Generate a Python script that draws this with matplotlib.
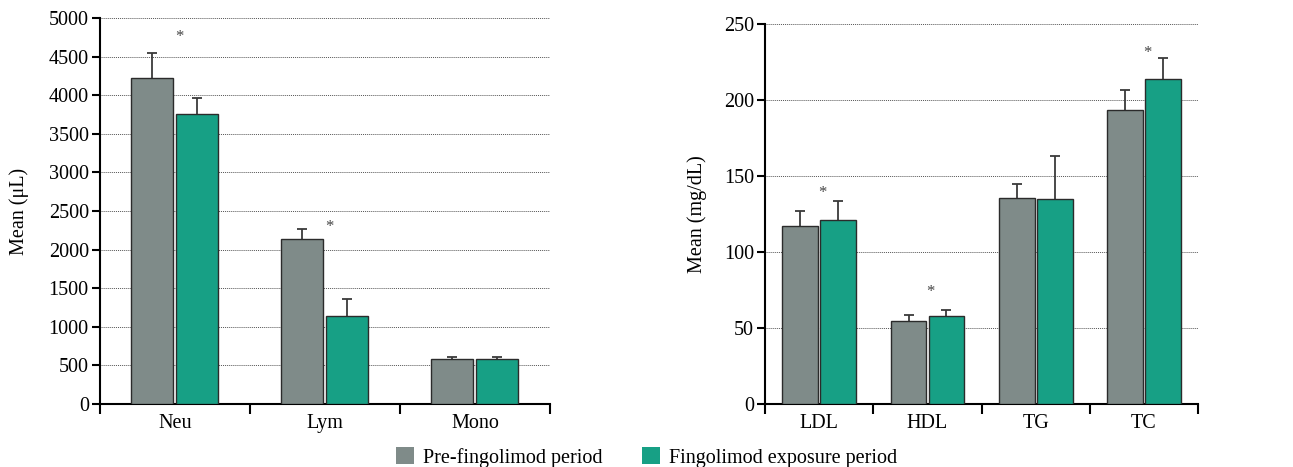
import numpy as np
import matplotlib.pyplot as plt
from matplotlib.patches import Patch

plt.rcParams['font.family'] = ['Liberation Serif', 'DejaVu Serif']

# blood cell counts
cells = ['Neu', 'Lym', 'Mono']
cells_pre = [4225, 2135, 580]
cells_pre_err = [320, 130, 25]
cells_fing = [3760, 1135, 580]
cells_fing_err = [200, 230, 25]
cells_star = [4760, 2290]
cells_star_idx = [0, 1]

# lipids
lipids = ['LDL', 'HDL', 'TG', 'TC']
lipids_pre = [116.8, 54.8, 135.2, 193.3]
lipids_pre_err = [10.0, 3.6, 9.6, 13.4]
lipids_fing = [121.2, 58.2, 134.7, 213.6]
lipids_fing_err = [12.4, 3.5, 28.5, 14.0]
lipids_star = [139, 73.5, 231]
lipids_star_idx = [0, 1, 3]

c_pre = '#7f8b89'
c_fing = '#17a085'
edge = '#2b2b2b'
fs = 14.5

fig = plt.figure(figsize=(12.93, 4.67), dpi=100)
ax1 = fig.add_axes([0.0773, 0.1349, 0.348, 0.8266])
ax2 = fig.add_axes([0.5917, 0.1349, 0.3349, 0.8137])


def draw(ax, cats, pre, pre_err, fing, fing_err, width, off, stars, star_idx, ymax, step, ylabel, lpad):
    x = np.arange(len(cats))
    ekw = dict(fmt='none', ecolor='#3a3a3a', elinewidth=1.3, capsize=3.5, capthick=1.3, zorder=2)
    # upper error only: hide the lower caps
    for xs, vals, err in [(x - off, pre, pre_err), (x + off, fing, fing_err)]:
        eb = ax.errorbar(xs, vals, yerr=[np.zeros(len(vals)), err], **ekw)
        eb[1][0].set_visible(False)
    ax.bar(x - off, pre, width, color=c_pre, edgecolor=edge, linewidth=1.0, zorder=3)
    ax.bar(x + off, fing, width, color=c_fing, edgecolor=edge, linewidth=1.0, zorder=3)
    for i, s in zip(star_idx, stars):
        ax.text(x[i] + 0.03, s, '*', ha='center', va='center', fontsize=12, color='#444444')
    ax.set_xlim(-0.5, len(cats) - 0.5)
    ax.set_ylim(0, ymax)
    ax.set_yticks(np.arange(0, ymax + step / 2, step))
    ax.set_xticks(x)
    ax.set_xticklabels(cats, fontsize=fs)
    ax.set_xticks(np.arange(len(cats) + 1) - 0.5, minor=True)
    ax.tick_params(axis='x', which='major', length=0, pad=7)
    ax.tick_params(axis='x', which='minor', length=7, width=1.5, direction='out')
    ax.tick_params(axis='y', length=6, width=1.5, direction='out', labelsize=fs, pad=2)
    ax.yaxis.grid(True, linestyle=(0, (1, 1)), color='#555555', linewidth=0.7, zorder=0)
    ax.set_axisbelow(True)
    for sp in ['top', 'right']:
        ax.spines[sp].set_visible(False)
    for sp in ['left', 'bottom']:
        ax.spines[sp].set_linewidth(1.5)
    ax.spines['left'].set_bounds(0, ymax)
    ax.set_ylabel(ylabel, fontsize=fs, labelpad=lpad)


draw(ax1, cells, cells_pre, cells_pre_err, cells_fing, cells_fing_err,
     0.28, 0.15, cells_star, cells_star_idx, 5000, 500, 'Mean (μL)', 14)
draw(ax2, lipids, lipids_pre, lipids_pre_err, lipids_fing, lipids_fing_err,
     0.33, 0.175, lipids_star, lipids_star_idx, 250, 50, 'Mean (mg/dL)', 12)

handles = [Patch(facecolor=c_pre, edgecolor='none'), Patch(facecolor=c_fing, edgecolor='none')]
fig.legend(handles, ['Pre-fingolimod period', 'Fingolimod exposure period'],
           loc='lower center', bbox_to_anchor=(0.5, -0.04), ncol=2, frameon=False,
           fontsize=fs, handlelength=0.9, handleheight=0.9, handletextpad=0.4, columnspacing=2.0)

fig.savefig('out.png', dpi=100)
